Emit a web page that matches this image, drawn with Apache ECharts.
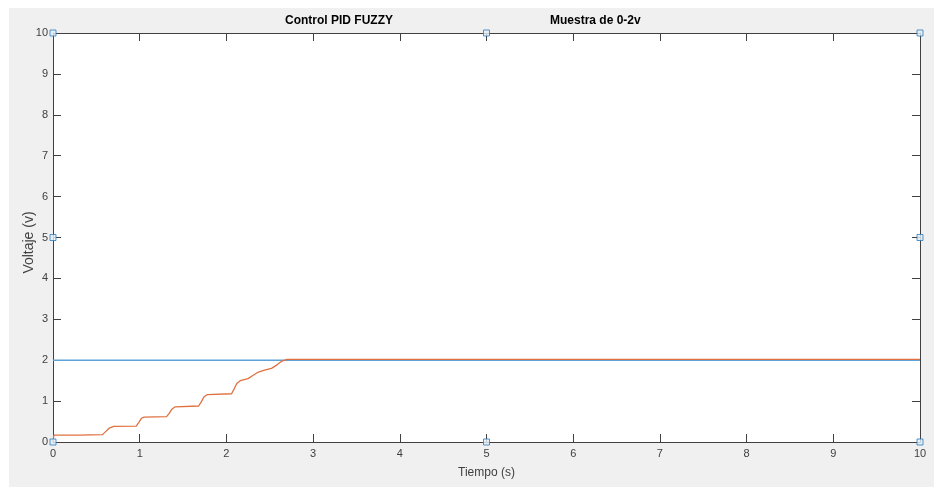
<!DOCTYPE html>
<html>
<head>
<meta charset="utf-8">
<script src="https://cdn.jsdelivr.net/npm/echarts@6/dist/echarts.min.js"></script>
<style>
  html, body { margin: 0; padding: 0; background: #fff; }
  #main { width: 934px; height: 487px; }
</style>
</head>
<body>
<div id="main"></div>
<script>
// 刻度（两个轴都是 0~10，步长 1）
const axisTicks = [0, 1, 2, 3, 4, 5, 6, 7, 8, 9, 10];

// 参考信号：恒定 2V
const refTime = [0, 10];
const refVolt = [2, 2];

// PID FUZZY 输出（从图上读出的点）
const outTime = [0, 0.01, 0.3, 0.57, 0.61, 0.65, 0.70, 0.96, 0.99, 1.02, 1.05, 1.31, 1.34, 1.37, 1.41, 1.68, 1.71, 1.74, 1.78, 2.06, 2.09, 2.12, 2.16, 2.25, 2.30, 2.37, 2.44, 2.52, 2.58, 2.64, 2.70, 3.5, 5.0, 6.5, 8.0, 10];
const outVolt = [0, 0.17, 0.17, 0.18, 0.26, 0.34, 0.38, 0.39, 0.48, 0.58, 0.61, 0.62, 0.70, 0.80, 0.86, 0.88, 0.98, 1.10, 1.16, 1.18, 1.30, 1.43, 1.50, 1.55, 1.62, 1.71, 1.76, 1.80, 1.88, 1.98, 2.02, 2.02, 2.02, 2.02, 2.02, 2.02];

// MATLAB 选中坐标轴时显示的小方块手柄
const handleX = [0, 0, 0, 5, 5, 10, 10, 10];
const handleY = [0, 5, 10, 0, 10, 0, 5, 10];

const zip = (a, b) => a.map((v, i) => [v, b[i]]);

const chart = echarts.init(document.getElementById('main'));

const AXIS_COLOR = '#404040';
const LABEL_COLOR = '#404040';
const FONT = 'Liberation Sans, Arial, sans-serif';

// 主轴（带刻度标签）
const mainAxis = (name, isY) => ({
  type: 'value',
  min: axisTicks[0],
  max: axisTicks[axisTicks.length - 1],
  interval: 1,
  name: name,
  nameLocation: 'middle',
  nameGap: isY ? 17 : 25,
  nameMoveOverlap: false,
  nameTextStyle: {
    color: LABEL_COLOR,
    fontSize: isY ? 14 : 12,
    fontFamily: FONT,
    padding: isY ? [0, 10, 0, 0] : 0 // y 轴标题稍微下移
  },
  axisLine: { show: true, lineStyle: { color: AXIS_COLOR, width: 1 } },
  axisTick: { show: true, inside: true, length: 8, lineStyle: { color: AXIS_COLOR } },
  axisLabel: { color: LABEL_COLOR, fontSize: 11, fontFamily: FONT, margin: isY ? 5 : 6 },
  splitLine: { show: false }
});

// 对面的轴（只有线和刻度，形成方框）
const boxAxis = (pos) => ({
  type: 'value',
  position: pos,
  min: axisTicks[0],
  max: axisTicks[axisTicks.length - 1],
  interval: 1,
  axisLine: { show: true, onZero: false, lineStyle: { color: AXIS_COLOR, width: 1 } },
  axisTick: { show: true, inside: true, length: 8, lineStyle: { color: AXIS_COLOR } },
  axisLabel: { show: false },
  splitLine: { show: false }
});

const option = {
  backgroundColor: '#fff',
  animation: false,
  graphic: [{
    type: 'rect',
    left: 9, top: 8,
    shape: { width: 925, height: 479 },
    style: { fill: '#f0f0f0' },
    z: -10
  }],
  title: [
    {
      text: 'Control PID FUZZY',
      left: 285, top: 15,
      padding: 0,
      textStyle: { fontSize: 12, fontWeight: 'bold', color: '#000', fontFamily: FONT }
    },
    {
      text: 'Muestra de 0-2v',
      left: 550, top: 15,
      padding: 0,
      textStyle: { fontSize: 12, fontWeight: 'bold', color: '#000', fontFamily: FONT }
    }
  ],
  grid: {
    left: 53, right: 14, top: 33, bottom: 45,
    show: true,
    backgroundColor: '#fff',
    borderWidth: 0
  },
  xAxis: [mainAxis('Tiempo (s)', false), boxAxis('top')],
  yAxis: [mainAxis('Voltaje (v)', true), boxAxis('right')],
  series: [
    {
      type: 'line',
      data: zip(refTime, refVolt),
      showSymbol: false,
      lineStyle: { color: '#5aa2d8', width: 1.5 },
      z: 2
    },
    {
      type: 'line',
      data: zip(outTime, outVolt),
      showSymbol: false,
      lineStyle: { color: '#e0703f', width: 1.3 },
      z: 3
    },
    {
      type: 'scatter',
      data: zip(handleX, handleY),
      symbol: 'rect',
      symbolSize: 6,
      clip: false,
      itemStyle: { color: '#e3eef8', borderColor: '#2b7bbd', borderWidth: 1 },
      z: 5
    }
  ]
};

chart.setOption(option);
</script>
</body>
</html>
